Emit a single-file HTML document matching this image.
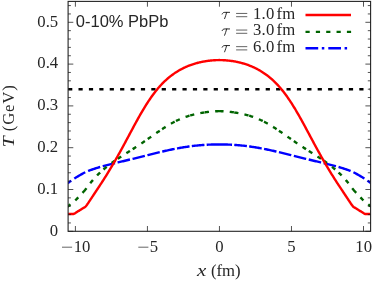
<!DOCTYPE html>
<html><head><meta charset="utf-8"><title>plot</title>
<style>
html,body{margin:0;padding:0;background:#fff;}
body{width:374px;height:283px;position:relative;overflow:hidden;font-family:"Liberation Serif",serif;color:#262626;font-size:16.7px;}
.t{position:absolute;white-space:nowrap;line-height:1;}
#tx{position:absolute;left:0;top:0;width:374px;height:283px;will-change:transform;}
</style></head><body>
<svg width="374" height="283" viewBox="0 0 374 283" style="position:absolute;left:0;top:0">
<defs><clipPath id="c"><rect x="68.1" y="1.4" width="302.50" height="229.90"/></clipPath></defs>
<g clip-path="url(#c)" fill="none" stroke-linejoin="round">
<path d="M68.1,89.18 H370.6" stroke="#000" stroke-width="2.4" stroke-dasharray="4.2,6.2"/>
<path d="M219.35,144.44 L218.36,144.44 L217.36,144.44 L216.37,144.45 L215.38,144.46 L214.38,144.47 L213.39,144.49 L212.40,144.52 L211.40,144.55 L210.41,144.58 L209.42,144.62 L208.42,144.67 L207.43,144.71 L206.44,144.77 L205.44,144.82 L204.45,144.88 M204.45,144.88 L203.46,144.95 L202.46,145.02 L201.47,145.10 L200.48,145.19 L199.48,145.28 L198.49,145.37 L197.50,145.47 L196.50,145.57 L195.51,145.67 L194.52,145.78 L193.52,145.90 L192.53,146.01 L191.54,146.14 L190.54,146.27 L189.55,146.40 M189.55,146.40 L188.56,146.54 L187.56,146.69 L186.57,146.83 L185.58,146.98 L184.58,147.14 L183.59,147.30 L182.60,147.46 L181.60,147.63 L180.61,147.80 L179.62,147.97 L178.62,148.15 L177.63,148.33 L176.64,148.52 L175.64,148.71 L174.65,148.90 M174.65,148.90 L173.66,149.10 L172.66,149.30 L171.67,149.50 L170.68,149.71 L169.68,149.92 L168.69,150.13 L167.70,150.35 L166.70,150.56 L165.71,150.78 L164.72,151.01 L163.72,151.23 L162.73,151.46 L161.74,151.69 L160.74,151.92 L159.75,152.15 M159.75,152.15 L158.76,152.39 L157.76,152.63 L156.77,152.87 L155.78,153.11 L154.78,153.36 L153.79,153.60 L152.80,153.85 L151.80,154.10 L150.81,154.35 L149.82,154.60 L148.82,154.84 L147.83,155.09 L146.84,155.34 L145.84,155.59 L144.85,155.84 M144.85,155.84 L143.86,156.09 L142.86,156.34 L141.87,156.59 L140.88,156.84 L139.88,157.10 L138.89,157.35 L137.90,157.60 L136.90,157.84 L135.91,158.09 L134.92,158.33 L133.92,158.58 L132.93,158.82 L131.94,159.06 L130.94,159.30 L129.95,159.54 M129.95,159.54 L128.96,159.78 L127.96,160.02 L126.97,160.26 L125.98,160.50 L124.98,160.73 L123.99,160.97 L123.00,161.21 L122.00,161.45 L121.01,161.69 L120.02,161.92 L119.02,162.16 L118.03,162.39 L117.04,162.63 L116.04,162.86 L115.05,163.10 M115.05,163.10 L114.06,163.34 L113.06,163.58 L112.07,163.82 L111.08,164.06 L110.08,164.31 L109.09,164.56 L108.10,164.81 L107.10,165.07 L106.11,165.33 L105.12,165.59 L104.12,165.86 L103.13,166.13 L102.14,166.40 L101.14,166.68 L100.15,166.96 M100.15,166.96 L99.16,167.25 L98.16,167.55 L97.17,167.86 L96.18,168.17 L95.18,168.49 L94.19,168.82 L93.20,169.15 L92.20,169.49 L91.21,169.85 L90.22,170.21 L89.22,170.58 L88.23,170.96 L87.24,171.35 L86.24,171.77 L85.25,172.24 M85.25,172.24 L84.26,172.75 L83.26,173.29 L82.27,173.85 L81.28,174.41 L80.28,174.97 L79.29,175.55 L78.30,176.13 L77.30,176.73 L76.31,177.33 L75.32,177.95 L74.32,178.59 L73.33,179.25 L72.34,179.95 L71.34,180.66 L70.35,181.33 M70.35,181.33 L69.36,181.97 L68.36,182.63 L67.37,183.32 L66.38,184.01 L65.38,184.72 L64.39,185.44 L63.40,186.17 L62.40,186.91 L61.41,187.66 L60.42,188.42 L59.42,189.20 L58.43,189.99 L57.44,190.80 L56.44,191.63 L55.45,192.47 M219.35,144.44 L220.34,144.44 L221.34,144.44 L222.33,144.45 L223.32,144.46 L224.32,144.47 L225.31,144.49 L226.30,144.52 L227.30,144.55 L228.29,144.58 L229.28,144.62 L230.28,144.67 L231.27,144.71 L232.26,144.77 L233.26,144.82 L234.25,144.88 M234.25,144.88 L235.24,144.95 L236.24,145.02 L237.23,145.10 L238.22,145.19 L239.22,145.28 L240.21,145.37 L241.20,145.47 L242.20,145.57 L243.19,145.67 L244.18,145.78 L245.18,145.90 L246.17,146.01 L247.16,146.14 L248.16,146.27 L249.15,146.40 M249.15,146.40 L250.14,146.54 L251.14,146.69 L252.13,146.83 L253.12,146.98 L254.12,147.14 L255.11,147.30 L256.10,147.46 L257.10,147.63 L258.09,147.80 L259.08,147.97 L260.08,148.15 L261.07,148.33 L262.06,148.52 L263.06,148.71 L264.05,148.90 M264.05,148.90 L265.04,149.10 L266.04,149.30 L267.03,149.50 L268.02,149.71 L269.02,149.92 L270.01,150.13 L271.00,150.35 L272.00,150.56 L272.99,150.78 L273.98,151.01 L274.98,151.23 L275.97,151.46 L276.96,151.69 L277.96,151.92 L278.95,152.15 M278.95,152.15 L279.94,152.39 L280.94,152.63 L281.93,152.87 L282.92,153.11 L283.92,153.36 L284.91,153.60 L285.90,153.85 L286.90,154.10 L287.89,154.35 L288.88,154.60 L289.88,154.84 L290.87,155.09 L291.86,155.34 L292.86,155.59 L293.85,155.84 M293.85,155.84 L294.84,156.09 L295.84,156.34 L296.83,156.59 L297.82,156.84 L298.82,157.10 L299.81,157.35 L300.80,157.60 L301.80,157.84 L302.79,158.09 L303.78,158.33 L304.78,158.58 L305.77,158.82 L306.76,159.06 L307.76,159.30 L308.75,159.54 M308.75,159.54 L309.74,159.78 L310.74,160.02 L311.73,160.26 L312.72,160.50 L313.72,160.73 L314.71,160.97 L315.70,161.21 L316.70,161.45 L317.69,161.69 L318.68,161.92 L319.68,162.16 L320.67,162.39 L321.66,162.63 L322.66,162.86 L323.65,163.10 M323.65,163.10 L324.64,163.34 L325.64,163.58 L326.63,163.82 L327.62,164.06 L328.62,164.31 L329.61,164.56 L330.60,164.81 L331.60,165.07 L332.59,165.33 L333.58,165.59 L334.58,165.86 L335.57,166.13 L336.56,166.40 L337.56,166.68 L338.55,166.96 M338.55,166.96 L339.54,167.25 L340.54,167.55 L341.53,167.86 L342.52,168.17 L343.52,168.49 L344.51,168.82 L345.50,169.15 L346.50,169.49 L347.49,169.85 L348.48,170.21 L349.48,170.58 L350.47,170.96 L351.46,171.35 L352.46,171.77 L353.45,172.24 M353.45,172.24 L354.44,172.75 L355.44,173.29 L356.43,173.85 L357.42,174.41 L358.42,174.97 L359.41,175.55 L360.40,176.13 L361.40,176.73 L362.39,177.33 L363.38,177.95 L364.38,178.59 L365.37,179.25 L366.36,179.95 L367.36,180.66 L368.35,181.33 M368.35,181.33 L369.34,181.97 L370.34,182.63 L371.33,183.32 L372.32,184.01 L373.32,184.72 L374.31,185.44 L375.30,186.17 L376.30,186.91 L377.29,187.66 L378.28,188.42 L379.28,189.20 L380.27,189.99 L381.26,190.80 L382.26,191.63 L383.25,192.47" stroke="#0000ff" stroke-width="2.4" stroke-dasharray="12.7,3.6,2.5,4"/>
<path d="M219.35,111.13 L218.36,111.16 L217.36,111.20 L216.37,111.24 L215.38,111.30 L214.38,111.36 L213.39,111.43 L212.40,111.51 L211.40,111.60 L210.41,111.70 L209.42,111.80 L208.42,111.91 L207.43,112.03 L206.44,112.16 L205.44,112.30 L204.45,112.44 M204.45,112.44 L203.46,112.59 L202.46,112.75 L201.47,112.92 L200.48,113.09 L199.48,113.28 L198.49,113.47 L197.50,113.67 L196.50,113.89 L195.51,114.11 L194.52,114.34 L193.52,114.59 L192.53,114.84 L191.54,115.11 L190.54,115.38 L189.55,115.67 M189.55,115.67 L188.56,115.97 L187.56,116.29 L186.57,116.62 L185.58,116.96 L184.58,117.31 L183.59,117.69 L182.60,118.07 L181.60,118.47 L180.61,118.89 L179.62,119.32 L178.62,119.76 L177.63,120.22 L176.64,120.69 L175.64,121.18 L174.65,121.68 M174.65,121.68 L173.66,122.20 L172.66,122.73 L171.67,123.28 L170.68,123.84 L169.68,124.41 L168.69,125.00 L167.70,125.59 L166.70,126.20 L165.71,126.82 L164.72,127.45 L163.72,128.10 L162.73,128.75 L161.74,129.40 L160.74,130.07 L159.75,130.74 M159.75,130.74 L158.76,131.42 L157.76,132.10 L156.77,132.79 L155.78,133.47 L154.78,134.16 L153.79,134.86 L152.80,135.55 L151.80,136.25 L150.81,136.94 L149.82,137.64 L148.82,138.33 L147.83,139.02 L146.84,139.71 L145.84,140.40 L144.85,141.08 M144.85,141.08 L143.86,141.76 L142.86,142.44 L141.87,143.12 L140.88,143.79 L139.88,144.46 L138.89,145.12 L137.90,145.78 L136.90,146.43 L135.91,147.09 L134.92,147.73 L133.92,148.38 L132.93,149.02 L131.94,149.67 L130.94,150.30 L129.95,150.94 M129.95,150.94 L128.96,151.58 L127.96,152.21 L126.97,152.84 L125.98,153.47 L124.98,154.11 L123.99,154.74 L123.00,155.38 L122.00,156.02 L121.01,156.66 L120.02,157.31 L119.02,157.96 L118.03,158.62 L117.04,159.28 L116.04,159.95 L115.05,160.63 M115.05,160.63 L114.06,161.32 L113.06,162.02 L112.07,162.73 L111.08,163.46 L110.08,164.20 L109.09,164.95 L108.10,165.72 L107.10,166.50 L106.11,167.30 L105.12,168.12 L104.12,168.96 L103.13,169.82 L102.14,170.70 L101.14,171.60 L100.15,172.53 M100.15,172.53 L99.16,173.48 L98.16,174.46 L97.17,175.46 L96.18,176.49 L95.18,177.54 L94.19,178.63 L93.20,179.74 L92.20,180.89 L91.21,182.07 L90.22,183.28 L89.22,184.55 L88.23,185.89 L87.24,187.23 L86.24,188.52 L85.25,189.72 M85.25,189.72 L84.26,190.90 L83.26,192.06 L82.27,193.19 L81.28,194.29 L80.28,195.37 L79.29,196.42 L78.30,197.44 L77.30,198.43 L76.31,199.38 L75.32,200.28 L74.32,201.13 L73.33,201.96 L72.34,202.77 L71.34,203.59 L70.35,204.42 M70.35,204.42 L69.36,205.25 L68.36,206.07 L67.37,206.88 L66.38,207.69 L65.38,208.50 L64.39,209.31 L63.40,210.11 L62.40,210.91 L61.41,211.71 L60.42,212.51 L59.42,213.30 L58.43,214.09 L57.44,214.87 L56.44,215.65 L55.45,216.43 M219.35,111.13 L220.34,111.16 L221.34,111.20 L222.33,111.24 L223.32,111.30 L224.32,111.36 L225.31,111.43 L226.30,111.51 L227.30,111.60 L228.29,111.70 L229.28,111.80 L230.28,111.91 L231.27,112.03 L232.26,112.16 L233.26,112.30 L234.25,112.44 M234.25,112.44 L235.24,112.59 L236.24,112.75 L237.23,112.92 L238.22,113.09 L239.22,113.28 L240.21,113.47 L241.20,113.67 L242.20,113.89 L243.19,114.11 L244.18,114.34 L245.18,114.59 L246.17,114.84 L247.16,115.11 L248.16,115.38 L249.15,115.67 M249.15,115.67 L250.14,115.97 L251.14,116.29 L252.13,116.62 L253.12,116.96 L254.12,117.31 L255.11,117.69 L256.10,118.07 L257.10,118.47 L258.09,118.89 L259.08,119.32 L260.08,119.76 L261.07,120.22 L262.06,120.69 L263.06,121.18 L264.05,121.68 M264.05,121.68 L265.04,122.20 L266.04,122.73 L267.03,123.28 L268.02,123.84 L269.02,124.41 L270.01,125.00 L271.00,125.59 L272.00,126.20 L272.99,126.82 L273.98,127.45 L274.98,128.10 L275.97,128.75 L276.96,129.40 L277.96,130.07 L278.95,130.74 M278.95,130.74 L279.94,131.42 L280.94,132.10 L281.93,132.79 L282.92,133.47 L283.92,134.16 L284.91,134.86 L285.90,135.55 L286.90,136.25 L287.89,136.94 L288.88,137.64 L289.88,138.33 L290.87,139.02 L291.86,139.71 L292.86,140.40 L293.85,141.08 M293.85,141.08 L294.84,141.76 L295.84,142.44 L296.83,143.12 L297.82,143.79 L298.82,144.46 L299.81,145.12 L300.80,145.78 L301.80,146.43 L302.79,147.09 L303.78,147.73 L304.78,148.38 L305.77,149.02 L306.76,149.67 L307.76,150.30 L308.75,150.94 M308.75,150.94 L309.74,151.58 L310.74,152.21 L311.73,152.84 L312.72,153.47 L313.72,154.11 L314.71,154.74 L315.70,155.38 L316.70,156.02 L317.69,156.66 L318.68,157.31 L319.68,157.96 L320.67,158.62 L321.66,159.28 L322.66,159.95 L323.65,160.63 M323.65,160.63 L324.64,161.32 L325.64,162.02 L326.63,162.73 L327.62,163.46 L328.62,164.20 L329.61,164.95 L330.60,165.72 L331.60,166.50 L332.59,167.30 L333.58,168.12 L334.58,168.96 L335.57,169.82 L336.56,170.70 L337.56,171.60 L338.55,172.53 M338.55,172.53 L339.54,173.48 L340.54,174.46 L341.53,175.46 L342.52,176.49 L343.52,177.54 L344.51,178.63 L345.50,179.74 L346.50,180.89 L347.49,182.07 L348.48,183.28 L349.48,184.55 L350.47,185.89 L351.46,187.23 L352.46,188.52 L353.45,189.72 M353.45,189.72 L354.44,190.90 L355.44,192.06 L356.43,193.19 L357.42,194.29 L358.42,195.37 L359.41,196.42 L360.40,197.44 L361.40,198.43 L362.39,199.38 L363.38,200.28 L364.38,201.13 L365.37,201.96 L366.36,202.77 L367.36,203.59 L368.35,204.42 M368.35,204.42 L369.34,205.25 L370.34,206.07 L371.33,206.88 L372.32,207.69 L373.32,208.50 L374.31,209.31 L375.30,210.11 L376.30,210.91 L377.29,211.71 L378.28,212.51 L379.28,213.30 L380.27,214.09 L381.26,214.87 L382.26,215.65 L383.25,216.43" stroke="#006400" stroke-width="2.4" stroke-dasharray="4.2,6.2"/>
<path d="M56.00,214.00 L60.00,214.00 L60.75,214.00 L61.50,214.00 L62.25,214.00 L63.00,214.00 L63.75,214.00 L64.50,214.00 L65.25,214.00 L66.00,214.00 L66.75,214.00 L67.50,214.00 L68.20,214.00 L68.25,214.00 L69.00,214.00 L69.75,214.00 L70.50,214.00 L71.25,214.00 L72.00,214.00 L72.75,214.00 L73.50,214.00 L73.60,214.00 L74.25,213.69 L74.40,213.60 L75.00,213.25 L75.75,212.78 L76.50,212.29 L77.00,211.97 L77.25,211.81 L78.00,211.34 L78.75,210.87 L79.50,210.40 L80.00,210.08 L80.25,209.92 L81.00,209.45 L81.75,208.98 L82.50,208.51 L83.00,208.19 L83.25,208.04 L84.00,207.62 L84.75,207.18 L85.50,206.64 L85.60,206.55 L86.25,205.80 L86.40,205.60 L87.00,204.78 L87.75,203.67 L88.00,203.30 L88.50,202.56 L89.25,201.43 L90.00,200.30 L90.75,199.18 L91.50,198.06 L92.25,196.93 L93.00,195.80 L93.20,195.50 L93.75,194.66 L94.50,193.51 L95.25,192.36 L96.00,191.22 L96.75,190.09 L97.50,188.97 L98.25,187.85 L99.00,186.73 L99.75,185.60 L100.50,184.46 L101.25,183.31 L102.00,182.16 L102.75,181.00 L103.50,179.83 L104.25,178.66 L105.00,177.47 L105.75,176.28 L106.50,175.08 L107.25,173.87 L108.00,172.65 L108.75,171.42 L109.50,170.19 L110.25,168.95 L111.00,167.69 L111.75,166.43 L112.50,165.16 L113.25,163.88 L114.00,162.59 L114.75,161.29 L115.50,159.99 L116.25,158.67 L117.00,157.35 L117.75,156.01 L118.50,154.67 L119.25,153.32 L120.00,151.97 L120.75,150.61 L121.50,149.24 L122.25,147.87 L123.00,146.49 L123.75,145.11 L124.50,143.73 L125.25,142.33 L126.00,140.94 L126.75,139.53 L127.50,138.13 L128.25,136.73 L129.00,135.33 L129.75,133.92 L130.50,132.52 L131.25,131.12 L132.00,129.72 L132.75,128.33 L133.50,126.93 L134.25,125.54 L135.00,124.16 L135.75,122.79 L136.50,121.42 L137.25,120.06 L138.00,118.70 L138.75,117.36 L139.50,116.03 L140.25,114.71 L141.00,113.41 L141.75,112.12 L142.50,110.84 L143.25,109.57 L144.00,108.33 L144.75,107.10 L145.50,105.89 L146.25,104.69 L147.00,103.50 L147.75,102.34 L148.50,101.20 L149.25,100.08 L150.00,98.97 L150.75,97.88 L151.50,96.81 L152.25,95.76 L153.00,94.74 L153.75,93.73 L154.50,92.74 L155.25,91.77 L156.00,90.82 L156.75,89.89 L157.50,88.98 L158.25,88.09 L159.00,87.22 L159.75,86.37 L160.50,85.54 L161.25,84.73 L162.00,83.94 L162.75,83.16 L163.50,82.41 L164.25,81.68 L165.00,80.96 L165.75,80.26 L166.50,79.58 L167.25,78.92 L168.00,78.27 L168.75,77.64 L169.50,77.02 L170.25,76.42 L171.00,75.83 L171.75,75.26 L172.50,74.70 L173.25,74.16 L174.00,73.63 L174.75,73.12 L175.50,72.62 L176.25,72.13 L177.00,71.66 L177.75,71.20 L178.50,70.75 L179.25,70.31 L180.00,69.89 L180.75,69.48 L181.50,69.08 L182.25,68.69 L183.00,68.31 L183.75,67.94 L184.50,67.58 L185.25,67.24 L186.00,66.90 L186.75,66.57 L187.50,66.25 L188.25,65.95 L189.00,65.65 L189.75,65.37 L190.50,65.09 L191.25,64.82 L192.00,64.56 L192.75,64.31 L193.50,64.06 L194.25,63.83 L195.00,63.60 L195.75,63.38 L196.50,63.17 L197.25,62.97 L198.00,62.77 L198.75,62.59 L199.50,62.41 L200.25,62.23 L201.00,62.07 L201.75,61.91 L202.50,61.75 L203.25,61.61 L204.00,61.47 L204.75,61.34 L205.50,61.22 L206.25,61.10 L207.00,60.99 L207.75,60.88 L208.50,60.79 L209.25,60.70 L210.00,60.61 L210.75,60.53 L211.50,60.46 L212.25,60.40 L213.00,60.34 L213.75,60.29 L214.50,60.24 L215.25,60.19 L216.00,60.16 L216.75,60.13 L217.50,60.10 L218.25,60.08 L219.00,60.07 L219.35,60.07 L220.10,60.08 L220.85,60.09 L221.60,60.12 L222.35,60.15 L223.10,60.18 L223.85,60.21 L224.60,60.26 L225.35,60.31 L226.10,60.37 L226.85,60.43 L227.60,60.50 L228.35,60.57 L229.10,60.66 L229.85,60.74 L230.60,60.84 L231.35,60.94 L232.10,61.04 L232.85,61.16 L233.60,61.28 L234.35,61.41 L235.10,61.54 L235.85,61.68 L236.60,61.83 L237.35,61.99 L238.10,62.16 L238.85,62.32 L239.60,62.50 L240.35,62.68 L241.10,62.88 L241.85,63.08 L242.60,63.28 L243.35,63.50 L244.10,63.72 L244.85,63.95 L245.60,64.19 L246.35,64.44 L247.10,64.70 L247.85,64.96 L248.60,65.24 L249.35,65.52 L250.10,65.81 L250.85,66.11 L251.60,66.42 L252.35,66.74 L253.10,67.08 L253.85,67.42 L254.60,67.77 L255.35,68.13 L256.10,68.51 L256.85,68.89 L257.60,69.29 L258.35,69.70 L259.10,70.11 L259.85,70.54 L260.60,70.99 L261.35,71.44 L262.10,71.91 L262.85,72.39 L263.60,72.88 L264.35,73.39 L265.10,73.91 L265.85,74.45 L266.60,75.00 L267.35,75.56 L268.10,76.14 L268.85,76.74 L269.60,77.35 L270.35,77.97 L271.10,78.61 L271.85,79.27 L272.60,79.94 L273.35,80.63 L274.10,81.34 L274.85,82.07 L275.60,82.81 L276.35,83.57 L277.10,84.36 L277.85,85.16 L278.60,85.98 L279.35,86.82 L280.10,87.68 L280.85,88.56 L281.60,89.46 L282.35,90.38 L283.10,91.32 L283.85,92.28 L284.60,93.26 L285.35,94.26 L286.10,95.28 L286.85,96.32 L287.60,97.38 L288.35,98.46 L289.10,99.56 L289.85,100.67 L290.60,101.81 L291.35,102.96 L292.10,104.13 L292.85,105.32 L293.60,106.53 L294.35,107.75 L295.10,108.99 L295.85,110.25 L296.60,111.52 L297.35,112.80 L298.10,114.10 L298.85,115.41 L299.60,116.74 L300.35,118.08 L301.10,119.43 L301.85,120.78 L302.60,122.15 L303.35,123.52 L304.10,124.90 L304.85,126.28 L305.60,127.68 L306.35,129.07 L307.10,130.46 L307.85,131.86 L308.60,133.27 L309.35,134.67 L310.10,136.08 L310.85,137.48 L311.60,138.88 L312.35,140.28 L313.10,141.68 L313.85,143.08 L314.60,144.47 L315.35,145.85 L316.10,147.23 L316.85,148.60 L317.60,149.97 L318.35,151.34 L319.10,152.69 L319.85,154.04 L320.60,155.39 L321.35,156.73 L322.10,158.05 L322.85,159.37 L323.60,160.68 L324.35,161.99 L325.10,163.28 L325.85,164.57 L326.60,165.84 L327.35,167.11 L328.10,168.36 L328.85,169.61 L329.60,170.85 L330.35,172.08 L331.10,173.30 L331.85,174.51 L332.60,175.72 L333.35,176.92 L334.10,178.10 L334.85,179.29 L335.60,180.46 L336.35,181.62 L337.10,182.78 L337.85,183.92 L338.60,185.07 L339.35,186.20 L340.10,187.33 L340.85,188.45 L341.60,189.57 L342.35,190.69 L342.70,191.22 L343.10,191.83 L343.85,192.98 L344.60,194.13 L345.35,195.27 L345.50,195.50 L346.10,196.41 L346.85,197.53 L347.60,198.65 L348.35,199.78 L348.70,200.30 L349.10,200.90 L349.85,202.03 L350.60,203.15 L350.70,203.30 L351.35,204.26 L352.10,205.34 L352.30,205.60 L352.85,206.30 L353.10,206.55 L353.60,206.94 L354.35,207.42 L355.10,207.84 L355.70,208.19 L355.85,208.28 L356.60,208.76 L357.35,209.23 L358.10,209.70 L358.70,210.08 L358.85,210.17 L359.60,210.65 L360.35,211.12 L361.10,211.59 L361.70,211.97 L361.85,212.06 L362.60,212.55 L363.35,213.04 L364.10,213.49 L364.30,213.60 L364.85,213.94 L365.10,214.00 L365.60,214.00 L366.35,214.00 L367.10,214.00 L367.85,214.00 L368.60,214.00 L369.35,214.00 L370.10,214.00 L370.50,214.00 L370.85,214.00 L371.60,214.00 L372.35,214.00 L373.10,214.00 L373.85,214.00 L374.60,214.00 L375.35,214.00 L376.10,214.00 L376.85,214.00 L377.60,214.00 L378.35,214.00 L379.10,214.00 L379.85,214.00 L382.70,214.00" stroke="#ff0000" stroke-width="2.4"/>
</g>
<rect x="68.1" y="1.4" width="302.50" height="229.90" fill="none" stroke="#242424" stroke-width="1.1"/>
<path d="M68.1,231.30h5.2 M370.6,231.30h-5.2 M68.1,222.94h2.8 M370.6,222.94h-2.8 M68.1,214.58h2.8 M370.6,214.58h-2.8 M68.1,206.22h2.8 M370.6,206.22h-2.8 M68.1,197.86h2.8 M370.6,197.86h-2.8 M68.1,189.50h5.2 M370.6,189.50h-5.2 M68.1,181.14h2.8 M370.6,181.14h-2.8 M68.1,172.78h2.8 M370.6,172.78h-2.8 M68.1,164.42h2.8 M370.6,164.42h-2.8 M68.1,156.06h2.8 M370.6,156.06h-2.8 M68.1,147.70h5.2 M370.6,147.70h-5.2 M68.1,139.34h2.8 M370.6,139.34h-2.8 M68.1,130.98h2.8 M370.6,130.98h-2.8 M68.1,122.62h2.8 M370.6,122.62h-2.8 M68.1,114.26h2.8 M370.6,114.26h-2.8 M68.1,105.90h5.2 M370.6,105.90h-5.2 M68.1,97.54h2.8 M370.6,97.54h-2.8 M68.1,89.18h2.8 M370.6,89.18h-2.8 M68.1,80.82h2.8 M370.6,80.82h-2.8 M68.1,72.46h2.8 M370.6,72.46h-2.8 M68.1,64.10h5.2 M370.6,64.10h-5.2 M68.1,55.74h2.8 M370.6,55.74h-2.8 M68.1,47.38h2.8 M370.6,47.38h-2.8 M68.1,39.02h2.8 M370.6,39.02h-2.8 M68.1,30.66h2.8 M370.6,30.66h-2.8 M68.1,22.30h5.2 M370.6,22.30h-5.2 M68.1,13.94h2.8 M370.6,13.94h-2.8 M68.1,5.58h2.8 M370.6,5.58h-2.8 M75.40,231.3v-5.3 M75.40,1.4v5.3 M147.43,231.3v-5.3 M147.43,1.4v5.3 M219.45,231.3v-5.3 M219.45,1.4v5.3 M291.47,231.3v-5.3 M291.47,1.4v5.3 M363.50,231.3v-5.3 M363.50,1.4v5.3" stroke="#1a1a1a" stroke-width="0.75" fill="none"/>
<path d="M305.5,15.05 H351" stroke="#ff0000" stroke-width="2.4"/>
<path d="M305.5,31.85 H351.2" stroke="#006400" stroke-width="2.4" stroke-dasharray="4.2,6.15"/>
<path d="M305.5,48.3 H351" stroke="#0000ff" stroke-width="2.4" stroke-dasharray="12.7,3.6,2.5,4"/>
<path d="M222.15,14.05 C222.6,12.85 223.4,12.35 224.9,12.35 L229.6,12.35 M226.7,12.35 C226.2,14.75 225.2,16.75 224.6,18.65 M222.15,30.65 C222.6,29.45 223.4,28.95 224.9,28.95 L229.6,28.95 M226.7,28.95 C226.2,31.35 225.2,33.35 224.6,35.25 M222.15,47.25 C222.6,46.05 223.4,45.55 224.9,45.55 L229.6,45.55 M226.7,45.55 C226.2,47.95 225.2,49.95 224.6,51.85" stroke="#222" stroke-width="0.95" fill="none" stroke-linecap="round"/>
<path d="M236.1,13.45H247.25 M236.1,16.70H247.25 M236.1,30.05H247.25 M236.1,33.30H247.25 M236.1,46.65H247.25 M236.1,49.90H247.25 M62,247.2H72.1 M138.3,247.2H148.4" stroke="#222" stroke-width="0.7" fill="none"/>
</svg>
<div id="tx">
<div class="t" style="left:-21.80px;width:80px;text-align:right;top:13.75px;">0.5</div>
<div class="t" style="left:-21.80px;width:80px;text-align:right;top:54.75px;">0.4</div>
<div class="t" style="left:-21.80px;width:80px;text-align:right;top:96.75px;">0.3</div>
<div class="t" style="left:-21.80px;width:80px;text-align:right;top:138.75px;">0.2</div>
<div class="t" style="left:-21.80px;width:80px;text-align:right;top:180.75px;">0.1</div>
<div class="t" style="left:-21.80px;width:80px;text-align:right;top:222.75px;">0</div>
<div class="t" style="left:42.10px;width:80px;text-align:center;top:238.75px;">10</div>
<div class="t" style="left:113.90px;width:80px;text-align:center;top:238.75px;">5</div>
<div class="t" style="left:179.50px;width:80px;text-align:center;top:238.75px;">0</div>
<div class="t" style="left:251.50px;width:80px;text-align:center;top:238.75px;">5</div>
<div class="t" style="left:323.70px;width:80px;text-align:center;top:238.75px;">10</div>
<div class="t" style="left:197.30px;top:262.75px;"><i style="display:inline-block;transform:scaleX(1.25);transform-origin:0 0">x</i></div>
<div class="t" style="left:211.00px;top:262.75px;letter-spacing:0px;">(fm)</div>
<div class="t" style="left:253.10px;top:5.75px;letter-spacing:0.15px;">1.0</div>
<div class="t" style="left:276.60px;top:5.75px;letter-spacing:0.2px;">fm</div>
<div class="t" style="left:253.10px;top:21.75px;letter-spacing:0.15px;">3.0</div>
<div class="t" style="left:276.60px;top:21.75px;letter-spacing:0.2px;">fm</div>
<div class="t" style="left:253.10px;top:38.75px;letter-spacing:0.15px;">6.0</div>
<div class="t" style="left:276.60px;top:38.75px;letter-spacing:0.2px;">fm</div>
<div class="t" style="left:14px;top:133.75px;transform:rotate(-90deg);transform-origin:0 13.25px;"><i style="display:inline-block;transform:scaleX(1.18);transform-origin:0 0">T</i></div>
<div class="t" style="left:14px;top:117.65px;letter-spacing:0.85px;transform:rotate(-90deg);transform-origin:0 13.25px;">(GeV)</div>
<div class="t" style="font-family:'Liberation Sans',sans-serif;font-size:16.5px;left:75.8px;top:13.2px">0-10% PbPb</div>
</div>
</body></html>
